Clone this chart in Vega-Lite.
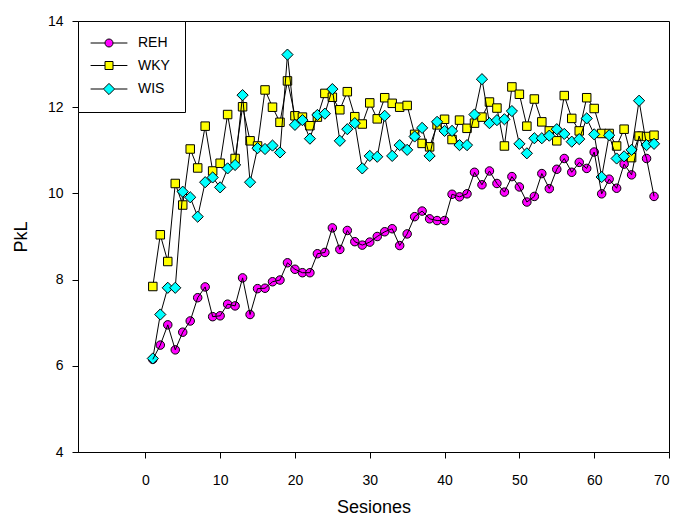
{
  "$schema": "https://vega.github.io/schema/vega-lite/v6.json",
  "width": 591,
  "height": 431,
  "autosize": {"type": "none"},
  "padding": {"left": 78, "top": 21, "right": 8, "bottom": 69},
  "background": "white",
  "config": {
    "font": "Liberation Sans",
    "view": {"stroke": "black", "strokeWidth": 1},
    "axis": {
      "grid": false,
      "domainColor": "black",
      "tickColor": "black",
      "labelColor": "black",
      "titleColor": "black",
      "titleFontWeight": "normal",
      "labelFontSize": 14,
      "titleFontSize": 18,
      "tickSize": 6,
      "labelFont": "Liberation Sans",
      "titleFont": "Liberation Sans"
    },
    "legend": {
      "title": null, "orient": "top-left", "offset": 0, "padding": 15, "strokeColor": "black", "fillColor": "white",
      "labelFontSize": 14, "labelColor": "black", "rowPadding": 8.5, "symbolOffset": 9, "labelOffset": 22,
      "symbolSize": 64, "symbolStrokeColor": "black", "symbolStrokeWidth": 1
    }
  },
  "data": {
    "values": [
      {"s":1,"REH":6.15,"WKY":7.84,"WIS":6.17},
      {"s":2,"REH":6.48,"WKY":9.04,"WIS":7.19},
      {"s":3,"REH":6.95,"WKY":8.42,"WIS":7.81},
      {"s":4,"REH":6.37,"WKY":10.23,"WIS":7.81},
      {"s":5,"REH":6.78,"WKY":9.73,"WIS":10.04},
      {"s":6,"REH":7.04,"WKY":11.03,"WIS":9.91},
      {"s":7,"REH":7.58,"WKY":10.59,"WIS":9.46},
      {"s":8,"REH":7.83,"WKY":11.56,"WIS":10.26},
      {"s":9,"REH":7.14,"WKY":10.52,"WIS":10.37},
      {"s":10,"REH":7.16,"WKY":10.70,"WIS":10.14},
      {"s":11,"REH":7.43,"WKY":11.83,"WIS":10.58},
      {"s":12,"REH":7.39,"WKY":10.81,"WIS":10.66},
      {"s":13,"REH":8.04,"WKY":12.01,"WIS":12.28},
      {"s":14,"REH":7.19,"WKY":11.22,"WIS":10.26},
      {"s":15,"REH":7.79,"WKY":11.10,"WIS":11.05},
      {"s":16,"REH":7.80,"WKY":12.40,"WIS":11.03},
      {"s":17,"REH":7.95,"WKY":12.00,"WIS":11.11},
      {"s":18,"REH":7.99,"WKY":11.65,"WIS":10.95},
      {"s":19,"REH":8.39,"WKY":12.61,"WIS":13.22},
      {"s":20,"REH":8.24,"WKY":11.80,"WIS":11.59},
      {"s":21,"REH":8.16,"WKY":11.77,"WIS":11.70},
      {"s":22,"REH":8.16,"WKY":11.57,"WIS":11.27},
      {"s":23,"REH":8.60,"WKY":11.77,"WIS":11.82},
      {"s":24,"REH":8.63,"WKY":12.32,"WIS":11.85},
      {"s":25,"REH":9.20,"WKY":12.23,"WIS":12.42},
      {"s":26,"REH":8.70,"WKY":11.94,"WIS":11.22},
      {"s":27,"REH":9.14,"WKY":12.36,"WIS":11.49},
      {"s":28,"REH":8.88,"WKY":11.78,"WIS":11.63},
      {"s":29,"REH":8.80,"WKY":11.61,"WIS":10.58},
      {"s":30,"REH":8.87,"WKY":12.10,"WIS":10.87},
      {"s":31,"REH":9.00,"WKY":11.73,"WIS":10.85},
      {"s":32,"REH":9.11,"WKY":12.22,"WIS":11.80},
      {"s":33,"REH":9.18,"WKY":12.09,"WIS":10.87},
      {"s":34,"REH":8.79,"WKY":12.00,"WIS":11.12},
      {"s":35,"REH":9.06,"WKY":12.04,"WIS":11.01},
      {"s":36,"REH":9.46,"WKY":11.37,"WIS":11.32},
      {"s":37,"REH":9.59,"WKY":11.16,"WIS":11.52},
      {"s":38,"REH":9.41,"WKY":11.08,"WIS":10.87},
      {"s":39,"REH":9.37,"WKY":11.59,"WIS":11.66},
      {"s":40,"REH":9.37,"WKY":11.72,"WIS":11.45},
      {"s":41,"REH":9.98,"WKY":11.25,"WIS":11.45},
      {"s":42,"REH":9.92,"WKY":11.70,"WIS":11.12},
      {"s":43,"REH":9.99,"WKY":11.51,"WIS":11.12},
      {"s":44,"REH":10.49,"WKY":11.63,"WIS":11.83},
      {"s":45,"REH":10.20,"WKY":11.77,"WIS":12.65},
      {"s":46,"REH":10.52,"WKY":12.12,"WIS":11.63},
      {"s":47,"REH":10.23,"WKY":11.98,"WIS":11.70},
      {"s":48,"REH":10.03,"WKY":11.10,"WIS":11.72},
      {"s":49,"REH":10.39,"WKY":12.47,"WIS":11.91},
      {"s":50,"REH":10.15,"WKY":12.30,"WIS":11.15},
      {"s":51,"REH":9.80,"WKY":11.56,"WIS":10.93},
      {"s":52,"REH":9.93,"WKY":12.19,"WIS":11.28},
      {"s":53,"REH":10.46,"WKY":11.66,"WIS":11.28},
      {"s":54,"REH":10.11,"WKY":11.45,"WIS":11.34},
      {"s":55,"REH":10.56,"WKY":11.22,"WIS":11.49},
      {"s":56,"REH":10.81,"WKY":12.27,"WIS":11.38},
      {"s":57,"REH":10.49,"WKY":11.74,"WIS":11.20},
      {"s":58,"REH":10.72,"WKY":11.45,"WIS":11.26},
      {"s":59,"REH":10.58,"WKY":12.22,"WIS":11.74},
      {"s":60,"REH":10.96,"WKY":11.97,"WIS":11.37},
      {"s":61,"REH":9.99,"WKY":11.39,"WIS":10.38},
      {"s":62,"REH":10.33,"WKY":11.39,"WIS":11.35},
      {"s":63,"REH":10.12,"WKY":11.10,"WIS":10.81},
      {"s":64,"REH":10.68,"WKY":11.49,"WIS":10.86},
      {"s":65,"REH":10.43,"WKY":10.83,"WIS":11.01},
      {"s":66,"REH":11.33,"WKY":11.33,"WIS":12.15},
      {"s":67,"REH":10.81,"WKY":11.32,"WIS":11.12},
      {"s":68,"REH":9.93,"WKY":11.35,"WIS":11.15}
    ]
  },
  "encoding": {
    "x": {
      "field": "s", "type": "quantitative",
      "scale": {"domain": [-9, 70], "nice": false, "zero": false},
      "axis": {"values": [0, 10, 20, 30, 40, 50, 60, 70], "title": "Sesiones", "labelPadding": 15, "titlePadding": 11}
    }
  },
  "layer": [
    {
      "transform": [{"fold": ["REH", "WKY", "WIS"], "as": ["serie", "pkl"]}, {"filter": "datum.s > 1000"}],
      "mark": {"type": "point", "filled": true, "stroke": "black", "strokeWidth": 1, "opacity": 1, "size": 64},
      "encoding": {
        "y": {"field": "pkl", "type": "quantitative", "scale": {"domain": [4, 14], "nice": false, "zero": false},
          "axis": {"values": [4, 6, 8, 10, 12, 14], "title": "PkL", "labelPadding": 9, "titlePadding": 17}},
        "color": {"field": "serie", "type": "nominal", "scale": {"domain": ["REH", "WKY", "WIS"], "range": ["#ff00ff", "#ffff00", "#00ffff"]}},
        "shape": {"field": "serie", "type": "nominal", "scale": {"domain": ["REH", "WKY", "WIS"], "range": ["M-4.6,0H-1M1,0H4.6M-1,0A1,1 0 1,0 1,0A1,1 0 1,0 -1,0Z", "M-4.6,0H-1M1,0H4.6M-1,-1H1V1H-1Z", "M-4.6,0H-1.4M1.4,0H4.6M-1.4,0L0,-1.4L1.4,0L0,1.4Z"]}}
      }
    },
    {
      "mark": {"type": "point", "filled": true, "stroke": "black", "strokeWidth": 1, "opacity": 1, "size": 72, "shape": "circle"},
      "encoding": {
        "y": {"field": "REH", "type": "quantitative"},
        "color": {"datum": "REH", "type": "nominal"}
      }
    },
    {
      "mark": {"type": "line", "color": "black", "strokeWidth": 1},
      "encoding": {"y": {"field": "WKY", "type": "quantitative"}}
    },
    {
      "mark": {"type": "point", "filled": true, "stroke": "black", "strokeWidth": 1, "opacity": 1, "size": 72, "shape": "square"},
      "encoding": {
        "y": {"field": "WKY", "type": "quantitative"},
        "color": {"datum": "WKY", "type": "nominal"}
      }
    },
    {
      "mark": {"type": "line", "color": "black", "strokeWidth": 1},
      "encoding": {"y": {"field": "WIS", "type": "quantitative"}}
    },
    {
      "mark": {"type": "point", "filled": true, "stroke": "black", "strokeWidth": 1, "opacity": 1, "size": 125, "shape": "diamond"},
      "encoding": {
        "y": {"field": "WIS", "type": "quantitative"},
        "color": {"datum": "WIS", "type": "nominal"}
      }
    },
    {
      "mark": {"type": "line", "color": "black", "strokeWidth": 1},
      "encoding": {"y": {"field": "REH", "type": "quantitative"}}
    }
  ]
}
